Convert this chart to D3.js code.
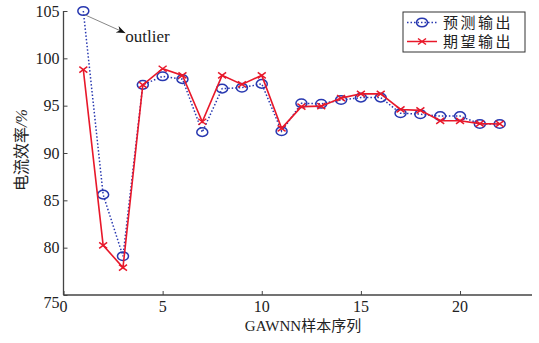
<!DOCTYPE html>
<html>
<head>
<meta charset="utf-8">
<script src="https://cdn.jsdelivr.net/npm/d3@7"></script>
<style>
  body { margin: 0; background: #fff; }
  svg text { font-family: "Liberation Serif", "Times New Roman", serif; fill: #222; }
  .cjk { font-family: "Noto Sans CJK SC", serif; }
  .axis path, .axis line { stroke: #444; }
</style>
</head>
<body>
<div id="chart"></div>
<script>
// sample index 1..22
const samples = d3.range(1, 23);
// predicted output (blue, dotted, circles)
const predicted = [105.0, 85.6, 79.1, 97.2, 98.1, 97.8, 92.2, 96.8, 96.9, 97.3, 92.3,
  95.25, 95.2, 95.6, 95.85, 95.85, 94.2, 94.1, 93.9, 93.9, 93.07, 93.07];
// expected output (red, solid, crosses)
const expected = [98.8, 80.25, 77.9, 97.2, 98.9, 98.2, 93.3, 98.2, 97.25, 98.2, 92.6,
  94.9, 94.95, 95.8, 96.25, 96.25, 94.6, 94.5, 93.4, 93.4, 93.1, 93.07];
const seriesNames = ['预测输出', '期望输出'];
const xTicks = [0, 5, 10, 15, 20];
const yTicks = [75, 80, 85, 90, 95, 100, 105];

const W = 539, H = 343;
const margin = { top: 11, right: 7, bottom: 48, left: 63.5 };
const width = W - margin.left - margin.right;
const height = H - margin.top - margin.bottom;

const svg = d3.select('#chart').append('svg')
  .attr('width', W)
  .attr('height', H);

const g = svg.append('g')
  .attr('transform', 'translate(' + margin.left + ',' + margin.top + ')');

const x = d3.scaleLinear().domain([0, 23.63]).range([0, width]);
const y = d3.scaleLinear().domain([75, 105]).range([height, 0]);

// axes, ticks pointing inward
const xAxis = d3.axisTop(x).tickValues(xTicks).tickSize(4).tickFormat('');
g.append('g').attr('class', 'axis')
  .attr('transform', 'translate(0,' + height + ')')
  .call(xAxis)
  .call(a => a.select('.domain').attr('d', 'M0,0H' + width).attr('stroke-width', 1.3));

g.selectAll('.xlab').data(xTicks).enter().append('text')
  .attr('x', d => x(d))
  .attr('y', height + 17)
  .attr('text-anchor', 'middle')
  .attr('font-size', 16)
  .text(d => d);

const yAxis = d3.axisRight(y).tickValues(yTicks).tickSize(4).tickFormat('');
g.append('g').attr('class', 'axis')
  .call(yAxis)
  .call(a => a.select('.domain').attr('d', 'M0,0V' + height).attr('stroke-width', 1.3));

g.selectAll('.ylab').data(yTicks).enter().append('text')
  .attr('x', -4)
  .attr('y', d => y(d) + (d === 75 ? 7 : 0))
  .attr('dy', '0.35em')
  .attr('text-anchor', 'end')
  .attr('font-size', 16)
  .text(d => d);

// axis titles
svg.append('text')
  .attr('class', 'cjk')
  .attr('x', 303)
  .attr('y', 331)
  .attr('text-anchor', 'middle')
  .attr('font-size', 15)
  .html('<tspan style="font-family:Liberation Serif">GAWNN</tspan>样本序列');

svg.append('text')
  .attr('class', 'cjk')
  .attr('transform', 'translate(27,150) rotate(-90)')
  .attr('text-anchor', 'middle')
  .attr('font-size', 16)
  .html('电流效率<tspan style="font-family:Liberation Serif;font-style:italic">/%</tspan>');

const line = d3.line().x((d, i) => x(samples[i])).y(d => y(d));

const blue = '#2838b0', red = '#e8182a';

// predicted
g.append('path').datum(predicted)
  .attr('d', line)
  .attr('fill', 'none')
  .attr('stroke', blue)
  .attr('stroke-width', 1.5)
  .attr('stroke-dasharray', '1.5,2');

g.selectAll('.pm').data(predicted).enter().append('ellipse')
  .attr('cx', (d, i) => x(samples[i]))
  .attr('cy', d => y(d))
  .attr('rx', 5.5).attr('ry', 4.3)
  .attr('fill', 'none')
  .attr('stroke', blue)
  .attr('stroke-width', 1.5);

// expected
g.append('path').datum(expected)
  .attr('d', line)
  .attr('fill', 'none')
  .attr('stroke', red)
  .attr('stroke-width', 1.6);

const cross = 'M-4,-3L4,3M-4,3L4,-3';
g.selectAll('.em').data(expected).enter().append('path')
  .attr('transform', (d, i) => 'translate(' + x(samples[i]) + ',' + y(d) + ')')
  .attr('d', cross)
  .attr('stroke', red)
  .attr('stroke-width', 1.5);

// outlier annotation
svg.append('defs').append('marker')
  .attr('id', 'arrow')
  .attr('viewBox', '0 -5 10 10')
  .attr('refX', 10).attr('refY', 0)
  .attr('markerWidth', 9).attr('markerHeight', 9)
  .attr('markerUnits', 'userSpaceOnUse')
  .attr('orient', 'auto')
  .append('path').attr('d', 'M0,-4L10,0L0,4L3,0Z').attr('fill', '#111');

const ox = x(samples[0]), oy = y(predicted[0]);
g.append('line')
  .attr('x1', ox + 2).attr('y1', oy + 4)
  .attr('x2', ox + 42).attr('y2', oy + 22)
  .attr('stroke', '#888')
  .attr('stroke-width', 1)
  .attr('marker-end', 'url(#arrow)');

g.append('text')
  .attr('x', ox + 42).attr('y', oy + 31)
  .attr('font-size', 17)
  .text('outlier');

// legend
const lg = svg.append('g').attr('transform', 'translate(403,12)');
lg.append('rect')
  .attr('width', 122).attr('height', 40)
  .attr('fill', '#fff')
  .attr('stroke', '#333')
  .attr('stroke-width', 1);

const rows = lg.selectAll('.row').data(seriesNames).enter().append('g')
  .attr('transform', (d, i) => 'translate(0,' + (10.5 + i * 19) + ')');

rows.append('line')
  .attr('x1', 4).attr('x2', 34)
  .attr('stroke', (d, i) => i === 0 ? blue : red)
  .attr('stroke-width', 1.5)
  .attr('stroke-dasharray', (d, i) => i === 0 ? '1.5,2' : null);

rows.filter((d, i) => i === 0).append('ellipse')
  .attr('cx', 19).attr('rx', 5.5).attr('ry', 4.3)
  .attr('fill', 'none').attr('stroke', blue).attr('stroke-width', 1.5);

rows.filter((d, i) => i === 1).append('path')
  .attr('transform', 'translate(19,0)')
  .attr('d', cross).attr('stroke', red).attr('stroke-width', 1.5);

rows.append('text')
  .attr('class', 'cjk')
  .attr('x', 40)
  .attr('dy', '0.36em')
  .attr('font-size', 15)
  .attr('letter-spacing', 2.5)
  .text(d => d);
</script>
</body>
</html>
